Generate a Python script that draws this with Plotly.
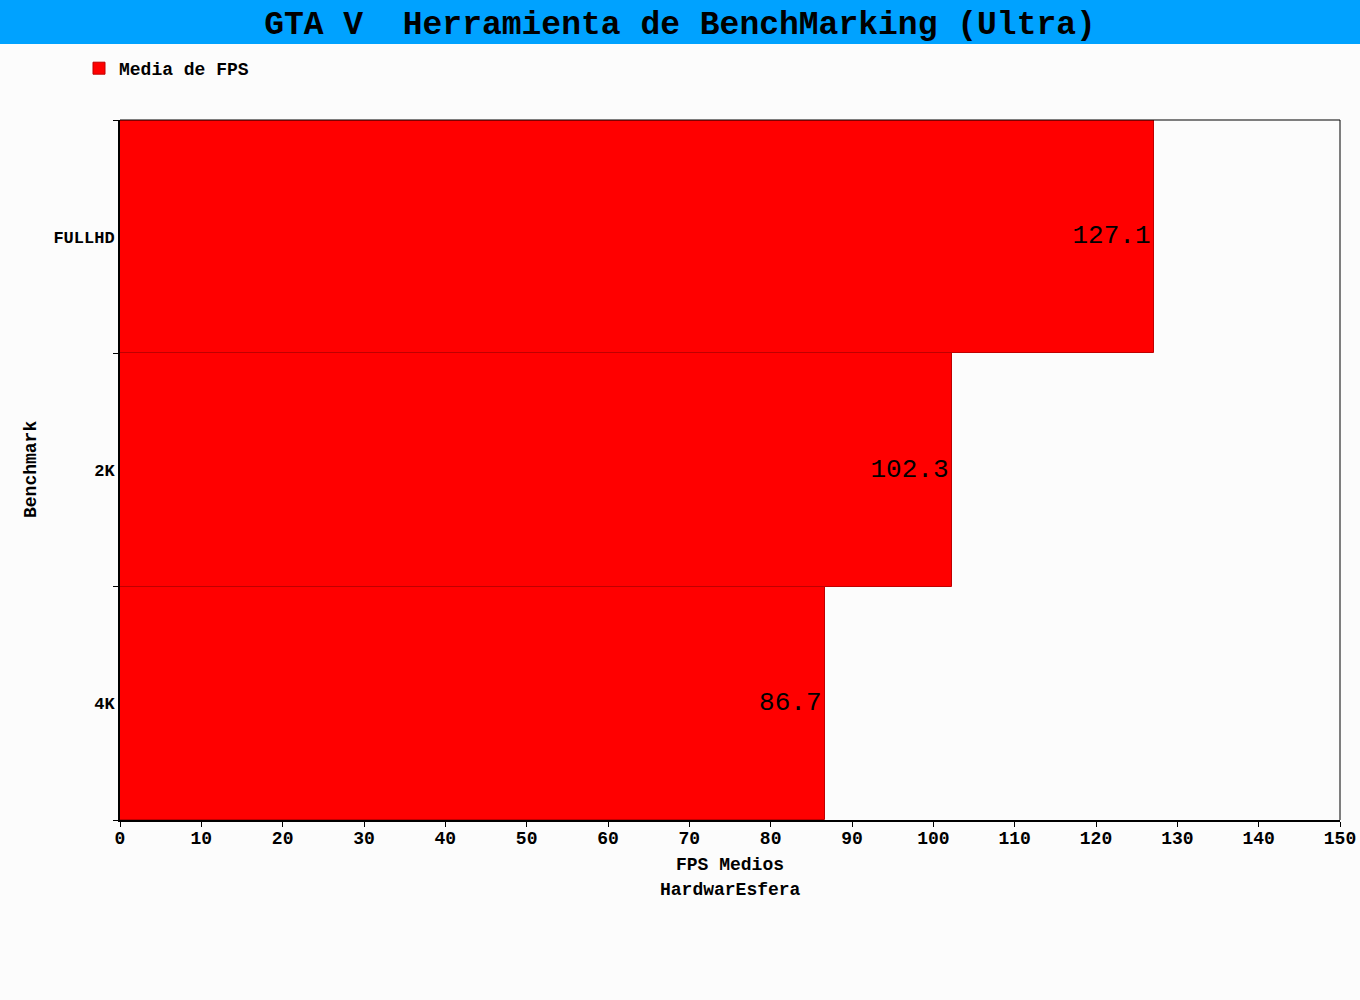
import plotly.graph_objects as go

categories = ["FULLHD", "2K", "4K"]
fps_values = [127.1, 102.3, 86.7]
series_name = "Media de FPS"
x_ticks = list(range(0, 151, 10))

FONT = "Liberation Mono, Courier New, monospace"
W, H = 1360, 1000
L, R, T, B = 120, 20, 120, 180
PW, PH = W - L - R, H - T - B

fig = go.Figure()
fig.add_trace(go.Bar(
    y=categories, x=fps_values, orientation="h", name=series_name,
    marker=dict(color="#FF0000", line=dict(color="#C00000", width=1)),
    text=[f"{v:.1f}" for v in fps_values], textposition="inside",
    insidetextanchor="end", textangle=0,
    textfont=dict(family=FONT, size=26, color="#000000", weight="normal"),
    showlegend=True,
))

fig.update_layout(
    width=W, height=H, autosize=False,
    margin=dict(l=L, r=R, t=T, b=B, autoexpand=False),
    paper_bgcolor="#FCFCFC", plot_bgcolor="#FCFCFC",
    bargap=0,
    font=dict(family=FONT, size=18, color="#000000", weight="bold"),
    title=dict(text="GTA V  Herramienta de BenchMarking (Ultra)",
               x=0.5, xanchor="center", y=1 - 22 / H, yanchor="middle",
               font=dict(family=FONT, size=33, color="#000000", weight="bold")),
    legend=dict(orientation="h", x=(79 - L) / PW, xanchor="left",
                y=1 + (T - 50) / PH, yanchor="top",
                font=dict(family=FONT, size=18, weight="bold"),
                bgcolor="rgba(0,0,0,0)"),
    xaxis=dict(range=[0, 150], tickvals=x_ticks, showgrid=False, zeroline=False,
               automargin=False, ticklabeloverflow="allow", ticklabelstandoff=-5,
               showline=True, linecolor="#000000", linewidth=2,
               ticks="outside", ticklen=5, tickcolor="#000000",
               tickfont=dict(family=FONT, size=18, weight="bold"), fixedrange=True),
    yaxis=dict(categoryorder="array", categoryarray=categories[::-1],
               showgrid=False, zeroline=False, tickson="boundaries",
               automargin=False,
               showline=True, linecolor="#000000", linewidth=2,
               ticks="outside", ticklen=5, tickcolor="#000000",
               tickfont=dict(family=FONT, size=17, weight="bold"), fixedrange=True),
    shapes=[
        dict(type="rect", xref="paper", yref="paper",
             x0=-L / PW, x1=1 + R / PW, y0=1 + (T - 44) / PH, y1=1 + T / PH,
             fillcolor="#00A2FF", line=dict(width=0), layer="below"),
        dict(type="line", xref="paper", yref="paper", x0=0, x1=1, y0=1, y1=1,
             line=dict(color="#000000", width=1)),
        dict(type="line", xref="paper", yref="paper", x0=1, x1=1, y0=0, y1=1,
             line=dict(color="#000000", width=1)),
    ],
    annotations=[
        dict(text="FPS Medios", xref="paper", yref="paper", x=0.5,
             y=-(865 - (T + PH)) / PH, xanchor="center", yanchor="middle",
             showarrow=False, font=dict(family=FONT, size=18, weight="bold")),
        dict(text="HardwarEsfera", xref="paper", yref="paper", x=0.5,
             y=-(890 - (T + PH)) / PH, xanchor="center", yanchor="middle",
             showarrow=False, font=dict(family=FONT, size=18, weight="bold")),
        dict(text="Benchmark", xref="paper", yref="paper",
             x=(31 - L) / PW, y=0.5, xanchor="center", yanchor="middle",
             textangle=-90, showarrow=False,
             font=dict(family=FONT, size=18, weight="bold")),
    ],
)

post = (
    "document.documentElement.style.margin='0';"
    "document.documentElement.style.overflow='hidden';"
    "document.body.style.margin='0';document.body.style.padding='0';"
    "document.body.style.overflow='hidden';"
)

fig.write_html("out.html", post_script=post,
               config={"responsive": False, "displayModeBar": False})
